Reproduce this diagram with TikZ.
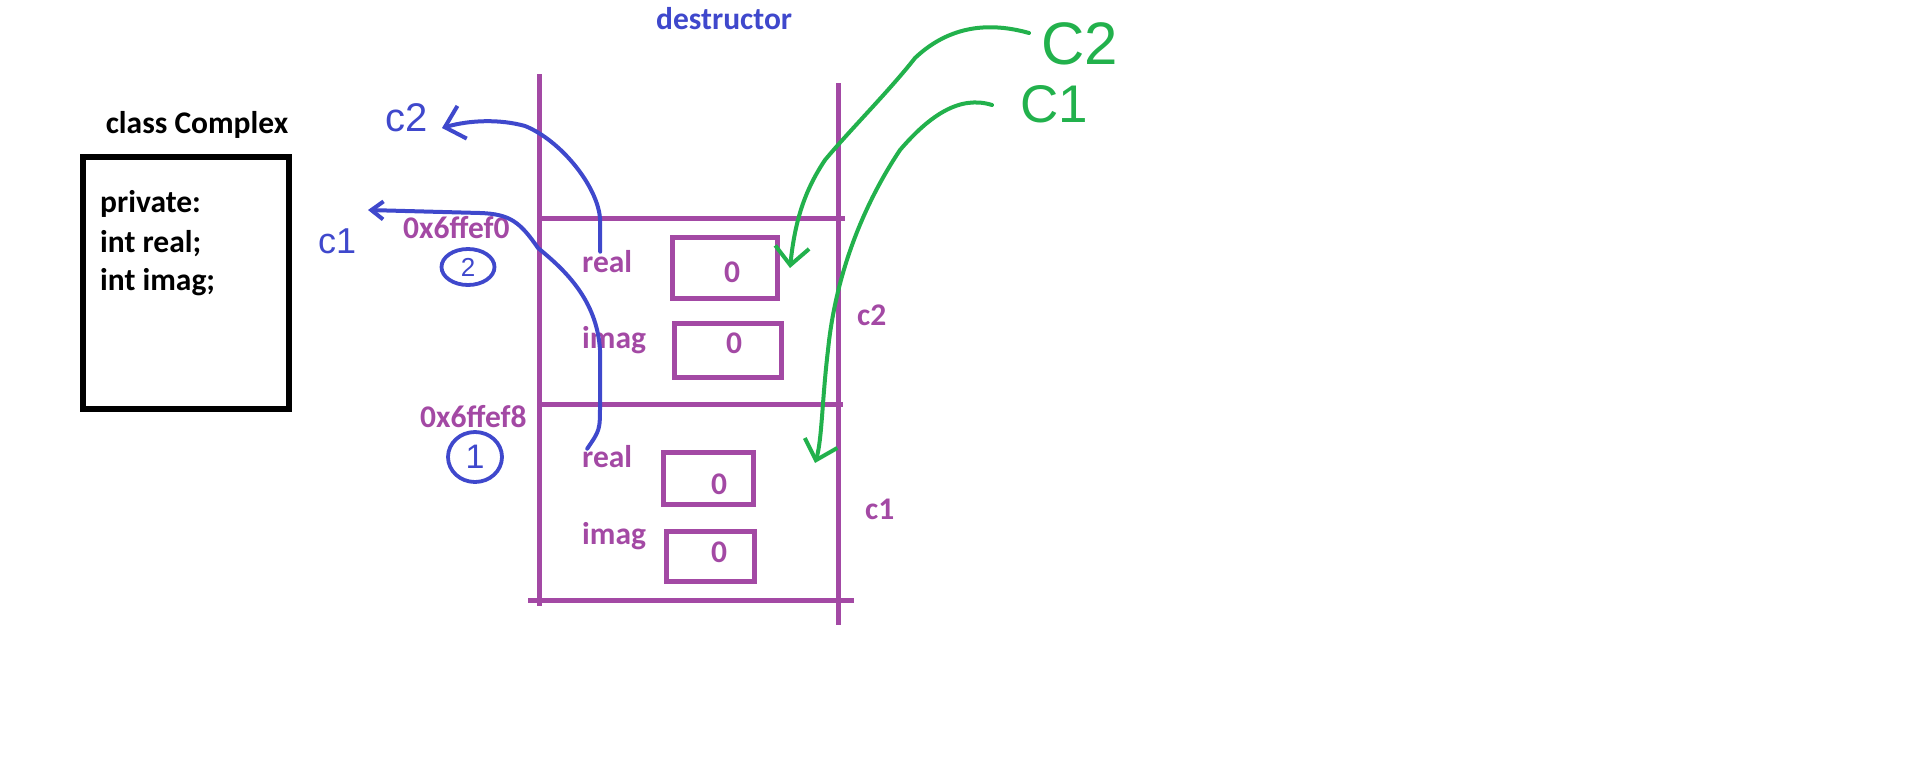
\documentclass[tikz,border=0pt]{standalone}
\usepackage{fontspec}
\setmainfont{Carlito}
\newfontfamily\hand{Liberation Sans}
\usetikzlibrary{arrows.meta,shapes.geometric}
\definecolor{ppl}{RGB}{163,73,164}
\definecolor{pblue}{RGB}{63,72,204}
\definecolor{pgreen}{RGB}{34,177,76}
\newcommand\lblfont{\fontsize{31.5}{37}\selectfont\bfseries}
\begin{document}
\begin{tikzpicture}[x=1pt,y=-1pt,
  txt/.style={inner sep=0pt, anchor=base west, font=\lblfont},
  ptxt/.style={txt, text=ppl},
  valtxt/.style={inner sep=0pt, font=\lblfont, text=ppl},
  pline/.style={draw=ppl, line width=5pt},
  pbox/.style={draw=ppl, line width=5pt, inner sep=0pt},
  bpen/.style={draw=pblue, line width=4pt, line cap=round, line join=round},
  gpen/.style={draw=pgreen, line width=4pt, line cap=round, line join=round},
  bigbarb/.style={-{Straight Barb[length=18pt,width=34pt]}},
  smallbarb/.style={-{Straight Barb[length=12pt,width=18pt]}},
  handtxt/.style={inner sep=0pt, anchor=base west},
 ]
\useasboundingbox (0,0) rectangle (1914,763);

% class box
\node[inner sep=0pt, anchor=base, font=\lblfont] (title) at (197,133) {class Complex};
\node[draw=black, line width=5.5pt, minimum width=206pt, minimum height=252pt, inner sep=0pt] (cls) at (186,283) {};
\node[txt] (l1) at (100,212) {private:};
\node[txt] (l2) at (100,252) {int real;};
\node[txt] (l3) at (100,290) {int imag;};

% title
\node[txt, text=pblue] (dtor) at (656,29) {destructor};

% stack frame
\draw[pline] (539,74) -- (539,606);
\draw[pline] (838,83) -- (838,625);
\draw[pline] (539,218) -- (845,218);
\draw[pline] (539,404) -- (843,404);
\draw[pline] (528,600) -- (854,600);

% c2 fields
\node[pbox, minimum width=105pt, minimum height=61pt] (bx1) at (724.5,267.5) {};
\node[pbox, minimum width=107pt, minimum height=54pt] (bx2) at (727.5,350) {};
\node[valtxt] (v1) at (732,272) {0};
\node[valtxt] (v2) at (734,343) {0};
\node[ptxt] (realtwo) at (582,272) {real};
\node[ptxt] (imagtwo) at (582,348) {imag};

% c1 fields
\node[pbox, minimum width=90pt, minimum height=52pt] (bx3) at (708,478) {};
\node[pbox, minimum width=88pt, minimum height=50pt] (bx4) at (710,556) {};
\node[valtxt] (v3) at (719,484) {0};
\node[valtxt] (v4) at (719,552) {0};
\node[ptxt] (realone) at (582,467) {real};
\node[ptxt] (imagone) at (582,544) {imag};

% frame labels
\node[ptxt] (lc2) at (857,325) {c2};
\node[ptxt] (lc1) at (865,519) {c1};
\node[ptxt] (adr2) at (403,238) {0x6ffef0};
\node[ptxt] (adr1) at (420,427) {0x6ffef8};

% blue circled numbers
\node[ellipse, draw=pblue, line width=3.8pt, minimum width=53pt, minimum height=36pt, inner sep=0pt, text=pblue, font=\hand\fontsize{26}{26}\selectfont] (n2) at (468,267) {2};
\node[ellipse, draw=pblue, line width=3.8pt, minimum width=54pt, minimum height=50pt, inner sep=0pt, text=pblue, font=\hand\fontsize{34}{34}\selectfont] (n1) at (475,457) {1};

% blue handwritten labels
\node[handtxt, text=pblue, font=\hand\fontsize{40}{40}\selectfont] (bc2) at (385,131) {c2};
\node[handtxt, text=pblue, font=\hand\fontsize{36}{36}\selectfont] (bc1) at (318,253) {c1};

% green handwritten labels
\node[handtxt, text=pgreen, font=\hand\fontsize{60}{60}\selectfont] (gc2) at (1041,64) {C2};
\node[handtxt, text=pgreen, font=\hand\fontsize{53}{53}\selectfont] (gc1) at (1020,122) {C1};

% blue arrows
\coordinate (c2end) at (442,128);
\coordinate (c1end) at (368,210);
\draw[bpen, bigbarb] ([xshift=-7pt,yshift=-2pt]realtwo.north) -- (600,218)
  .. controls (597,185) and (560,140) .. (525,126)
  .. controls (500,119) and (470,120) .. (c2end);
\draw[bpen, smallbarb] ([xshift=-20pt,yshift=-4pt]realone.north)
  .. controls (600,430) .. (600,405) -- (600,350)
  .. controls (597,300) and (565,270) .. (538,248)
  .. controls (520,222) and (510,214) .. (480,213) -- (c1end);

% green arrows
\coordinate (g2s) at (1029,33);
\coordinate (g2e) at (790,268);
\coordinate (g1s) at (992,105);
\coordinate (g1e) at (815,463);
\draw[gpen, bigbarb] (g2s) .. controls (990,22) and (950,25) .. (915,58)
  .. controls (890,90) and (850,130) .. (825,160)
  .. controls (805,190) and (795,220) .. (g2e);
\draw[gpen, bigbarb] (g1s) .. controls (960,95) and (930,115) .. (900,150)
  .. controls (860,210) and (835,280) .. (828,350)
  .. controls (822,400) and (822,440) .. (g1e);
\end{tikzpicture}
\end{document}
